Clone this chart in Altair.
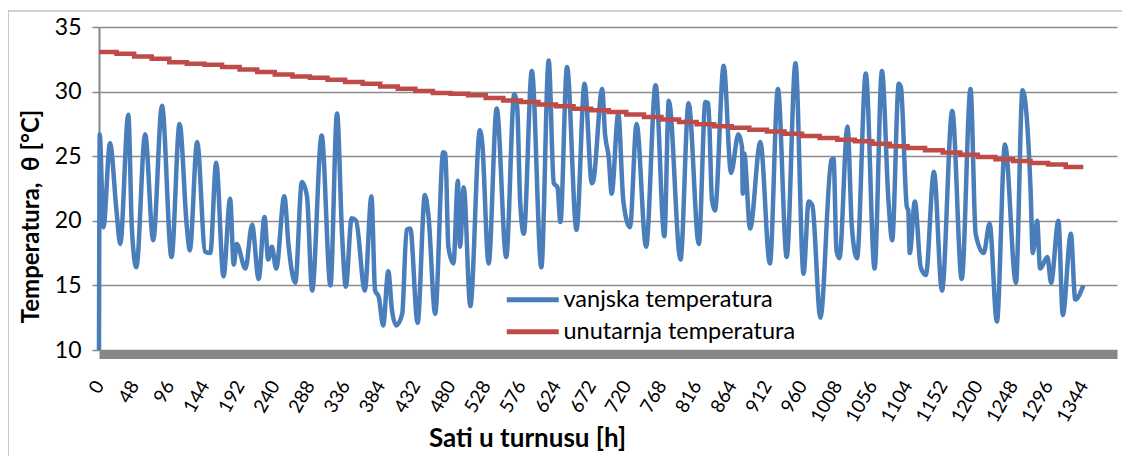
import altair as alt
import pandas as pd

# vanjska temperatura (outdoor), read at daily peaks/troughs and shoulders
hours_out = [0, 1, 6, 15, 24, 29, 40, 45, 51, 63, 74, 86, 99, 110, 120, 124, 134, 145, 152, 160,
             170, 179, 184, 188, 200, 209, 218, 226, 231, 236, 242, 253, 259, 268, 277, 284, 291, 304, 316, 325,
             332, 337, 345, 351, 363, 372, 377, 382, 388, 395, 400, 406, 414, 420, 425, 435, 445, 450, 459, 470, 473, 477, 484,
             490, 493, 498, 507, 520, 523, 532, 543, 556, 567, 571, 575, 580, 591, 604, 614, 621, 626, 630, 639,
             652, 663, 673, 675, 687, 691, 696, 700, 709, 716, 725, 734, 747, 760, 772, 778, 794, 805,
             819, 828, 832, 837, 841, 853, 863, 873, 878, 879, 881, 889, 903, 916, 927, 939, 951, 962, 969, 974, 985,
             1000, 1003, 1007, 1011, 1022, 1028, 1035, 1047, 1059, 1069, 1078, 1083, 1092, 1095, 1103, 1105, 1107, 1114, 1122, 1129, 1140,
             1151, 1165, 1178, 1190, 1197, 1208, 1216, 1226, 1237, 1252, 1261, 1272, 1275, 1281, 1285, 1295, 1300, 1310, 1316, 1327, 1333, 1344]
temp_out = [10.0, 26.7, 19.5, 26.0, 20.7, 18.2, 28.2, 19.3, 16.4, 26.7, 18.5, 28.9, 17.2, 27.5, 19.5, 17.7, 26.1, 17.6, 17.5, 24.5,
            15.7, 21.7, 16.6, 18.2, 16.3, 19.7, 15.5, 20.3, 17.0, 18.0, 16.3, 21.9, 18.0, 15.2, 23.0, 21.9, 14.6, 26.6, 15.0, 28.3,
            18.8, 14.9, 20.2, 20.0, 14.6, 21.9, 14.6, 14.1, 11.9, 16.1, 13.1, 11.9, 12.8, 19.3, 19.4, 12.1, 22.0, 20.3, 12.8, 25.3, 25.2, 18.0, 16.7,
            23.1, 18.0, 22.6, 13.4, 27.0, 26.2, 16.7, 28.7, 17.2, 29.8, 28.8, 21.6, 19.0, 31.6, 16.4, 32.4, 22.9, 22.6, 19.9, 31.9,
            19.3, 30.6, 22.9, 23.1, 30.2, 26.7, 24.9, 22.1, 28.3, 21.5, 19.5, 27.5, 18.0, 30.5, 18.8, 29.3, 17.0, 29.1,
            18.2, 29.2, 29.1, 21.6, 20.8, 32.0, 23.7, 26.7, 25.7, 22.1, 25.2, 19.4, 26.1, 16.7, 30.2, 17.2, 32.2, 15.9, 21.5, 21.2, 12.5,
            24.7, 24.8, 17.7, 17.1, 27.3, 19.5, 17.1, 31.4, 16.3, 31.6, 21.5, 18.5, 30.6, 30.3, 21.1, 20.8, 17.5, 21.5, 16.4, 15.8, 23.8,
            14.6, 28.5, 15.5, 30.2, 19.0, 17.5, 19.8, 12.2, 25.9, 15.2, 30.1, 22.4, 17.5, 20.0, 16.3, 17.2, 15.2, 20.0, 12.7, 19.0, 13.9, 15.0]

# unutarnja temperatura (indoor), one value per day (steps)
hours_in = list(range(0, 1345, 24))
temp_in = [33.06, 32.93, 32.72, 32.54, 32.28, 32.15, 32.08, 31.90, 31.72, 31.51, 31.33, 31.17, 31.07, 30.92,
           30.74, 30.61, 30.40, 30.22, 30.04, 29.89, 29.83, 29.71, 29.50, 29.32, 29.19, 29.01, 28.86, 28.68,
           28.55, 28.42, 28.22, 28.03, 27.85, 27.65, 27.47, 27.31, 27.21, 27.05, 26.92, 26.74, 26.56, 26.41,
           26.28, 26.15, 25.97, 25.77, 25.64, 25.46, 25.28, 25.12, 24.94, 24.76, 24.63, 24.48, 24.35, 24.17, 24.17]

x_ticks = list(range(0, 1345, 48))
y_ticks = [10, 15, 20, 25, 30, 35]
series_names = ["vanjska temperatura", "unutarnja temperatura"]
series_colors = ["#4A7EBB", "#BE4B48"]

df_out = pd.DataFrame({"sat": hours_out, "temp": temp_out, "serija": series_names[0]})
df_in = pd.DataFrame({"sat": hours_in, "temp": temp_in, "serija": series_names[1]})

FONT = "Lato"
W, H = 1018, 323

x_enc = alt.X("sat:Q",
              scale=alt.Scale(domain=[0, 1390], nice=False, zero=False),
              axis=alt.Axis(values=x_ticks, format="d", labelAngle=-60, labelAlign="right", labelBaseline="middle",
                            labelPadding=28, labelFontSize=19, labelOverlap=False, labelFlush=False,
                            ticks=False, grid=False, domainWidth=9, domainColor="#878787", offset=4,
                            title="Sati u turnusu [h]", titleFontSize=26, titleFontWeight="bold",
                            titleX=428, titleY=84, titleAlign="center", titleBaseline="middle"))
y_enc = alt.Y("temp:Q",
              scale=alt.Scale(domain=[10, 35], nice=False, zero=False),
              axis=alt.Axis(values=y_ticks, labelFontSize=23, labelPadding=11, tickSize=7, tickWidth=1.5,
                            tickColor="#868686", domainColor="#868686", domainWidth=2,
                            grid=True, gridColor="#8c8c8c", gridWidth=1.5,
                            title="Temperatura,\u00a0 θ [°C]", titleFontSize=24, titleFontWeight="bold",
                            titleX=-68, titleY=189, titleAngle=270, titleAlign="center", titleBaseline="middle"))

color_enc = alt.Color("serija:N",
                      scale=alt.Scale(domain=series_names, range=series_colors),
                      legend=alt.Legend(orient="none", legendX=422, legendY=261, title=None,
                                        symbolType="M-5,0H5", symbolSize=108, symbolStrokeWidth=5,
                                        labelFontSize=23.5, labelFont=FONT, labelOffset=19, labelLimit=0,
                                        rowPadding=7))

blue = alt.Chart(df_out).mark_line(interpolate="monotone", strokeWidth=4.5).encode(
    x=x_enc, y=y_enc, color=color_enc)
red = alt.Chart(df_in).mark_line(interpolate="step-after", strokeWidth=4.5).encode(
    x=x_enc, y=y_enc, color=color_enc)

border = alt.Chart(pd.DataFrame({"a": [0]})).mark_rect(filled=False, stroke="#a6a6a6", strokeWidth=1.2).encode(
    x=alt.value(-91), x2=alt.value(1027), y=alt.value(-16), y2=alt.value(440))

chart = alt.layer(border, blue, red).properties(
    width=W, height=H,
    autosize=alt.AutoSizeParams(type="none"),
    padding={"left": 91, "top": 19, "right": 5, "bottom": 106},
).configure_view(stroke=None).configure_axis(
    labelFont=FONT, titleFont=FONT, labelColor="black", titleColor="black"
).configure_axisX(labelOverlap=False)

chart.save("out.html", embed_options={"renderer": "svg", "actions": False})
